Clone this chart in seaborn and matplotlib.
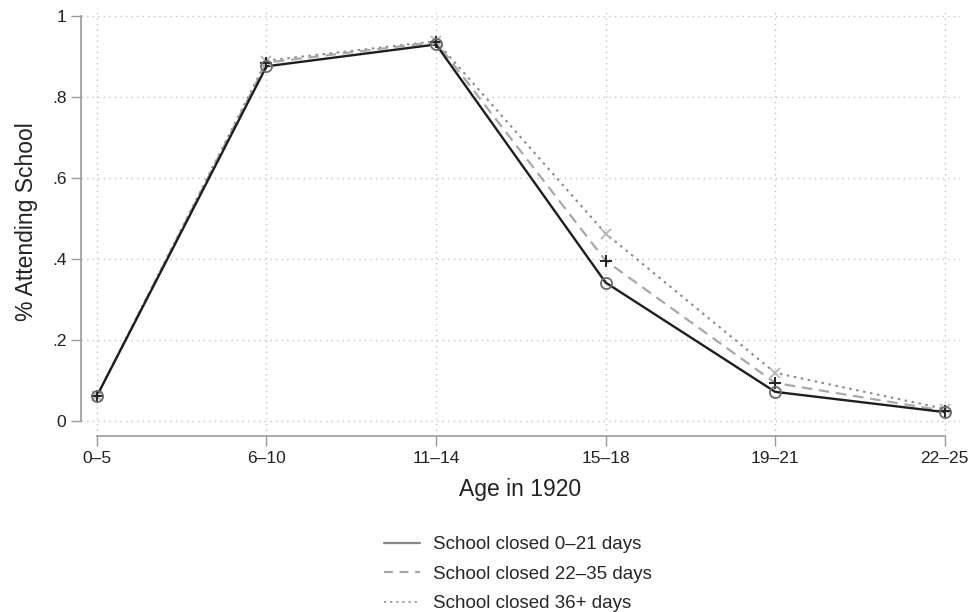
import matplotlib
matplotlib.use("Agg")
import matplotlib.pyplot as plt
from matplotlib.lines import Line2D
import seaborn as sns
import pandas as pd

# attendance by age group and length of school closure
ages = ["0–5", "6–10", "11–14", "15–18", "19–21", "22–25"]
closed_0_21 = [0.062, 0.876, 0.930, 0.342, 0.072, 0.022]
closed_22_35 = [0.062, 0.885, 0.936, 0.396, 0.094, 0.025]
closed_36 = [0.062, 0.890, 0.938, 0.463, 0.119, 0.030]
groups = ["School closed 0–21 days", "School closed 22–35 days", "School closed 36+ days"]

yticks = [0, 0.2, 0.4, 0.6, 0.8, 1]
ytick_labels = ["0", ".2", ".4", ".6", ".8", "1"]

df = pd.DataFrame({
    "age": list(range(len(ages))) * 3,
    "share": closed_0_21 + closed_22_35 + closed_36,
    "group": [g for g in groups for _ in ages],
})

sns.set_style("white")
plt.rcParams["font.family"] = ["Liberation Sans", "DejaVu Sans"]

fig = plt.figure(figsize=(9.72, 6.12), dpi=100)
ax = fig.add_axes([81 / 972, 1 - 436 / 612, (960 - 81) / 972, (436 - 8) / 612])

line_cols = {groups[0]: "#1e1e1e", groups[1]: "#a8a8a8", groups[2]: "#8c8c8c"}
sns.lineplot(data=df[df.group == groups[2]], x="age", y="share", color=line_cols[groups[2]],
             linestyle=(0, (1.2, 2.2)), lw=1.5, ax=ax, legend=False)
sns.lineplot(data=df[df.group == groups[1]], x="age", y="share", color=line_cols[groups[1]],
             linestyle=(0, (4.8, 3)), lw=1.6, ax=ax, legend=False)
sns.lineplot(data=df[df.group == groups[0]], x="age", y="share", color=line_cols[groups[0]],
             linestyle="-", lw=1.7, ax=ax, legend=False)

# markers
ax.plot(range(len(ages)), closed_36, ls="none", marker="x", ms=7, mew=1.3, color="#b8b8b8", zorder=5)
ax.plot(range(len(ages)), closed_22_35, ls="none", marker="+", ms=9, mew=1.4, color="#222222", zorder=6)
ax.plot(range(len(ages)), closed_0_21, ls="none", marker="o", ms=8, mew=1.3, mfc="none", mec="#6a6a6a", zorder=7)

ax.set_xlim(-0.094, 5.09)
ax.set_ylim(-0.037, 1.02)
ax.set_xticks(range(len(ages)))
ax.set_xticklabels(ages)
ax.set_yticks(yticks)
ax.set_yticklabels(ytick_labels)
ax.tick_params(axis="both", labelsize=12.5, length=7, width=1, direction="out",
               left=True, bottom=True, colors="#999999", labelcolor="#222222")

ax.grid(True, color="#c4c4c4", linestyle=(0, (1, 3)), lw=1)
for s in ["top", "right"]:
    ax.spines[s].set_visible(False)
ax.spines["left"].set_bounds(0, 1)
ax.spines["bottom"].set_bounds(0, 5)
for s in ["left", "bottom"]:
    ax.spines[s].set_color("#999999")
    ax.spines[s].set_linewidth(1.2)

ax.set_xlabel("Age in 1920", fontsize=16.5, color="#222222", labelpad=9)
ax.set_ylabel("% Attending School", fontsize=16.5, color="#222222", labelpad=10)

handles = [
    Line2D([], [], color="#888888", lw=1.6, ls="-"),
    Line2D([], [], color="#a8a8a8", lw=1.6, ls=(0, (4, 3))),
    Line2D([], [], color="#9a9a9a", lw=1.3, ls=(0, (1.2, 2.2))),
]
fig.legend(handles, groups, loc="center", bbox_to_anchor=(518 / 972, 1 - 574 / 612),
           frameon=False, fontsize=13.5, handlelength=1.9, handletextpad=0.7, labelspacing=0.66)

fig.savefig("out.png", dpi=100)
